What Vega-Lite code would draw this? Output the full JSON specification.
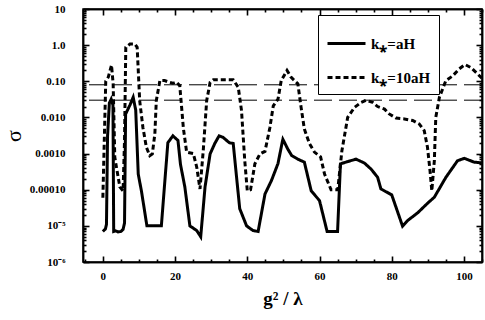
{
  "$schema": "https://vega.github.io/schema/vega-lite/v6.json",
  "width": 399,
  "height": 253,
  "autosize": {"type": "none"},
  "padding": {"left": 83, "top": 9, "right": 3, "bottom": 58},
  "background": "white",
  "config": {
    "view": {"stroke": "black", "strokeWidth": 1.5},
    "font": "Liberation Serif",
    "axis": {
      "grid": false,
      "zindex": 1,
      "domainColor": "black",
      "domainWidth": 1.5,
      "tickColor": "black",
      "tickOpacity": 1,
      "tickWidth": 1.6,
      "labelFont": "Liberation Serif",
      "labelFontWeight": "bold",
      "labelFontSize": 11,
      "labelColor": "black",
      "titleFont": "Liberation Serif",
      "titleColor": "black"
    },
    "legend": {
      "orient": "none",
      "legendX": 235,
      "legendY": 6,
      "direction": "vertical",
      "strokeColor": "black",
      "fillColor": "white",
      "padding": 8,
      "symbolType": "stroke",
      "symbolSize": 1444,
      "symbolStrokeWidth": 3,
      "symbolStrokeColor": "black",
      "labelFont": "Liberation Serif",
      "labelFontWeight": "bold",
      "labelFontSize": 15,
      "labelColor": "black",
      "labelOffset": 4,
      "rowPadding": 5
    }
  },
  "datasets": {
    "curves": [
      {"series": "k⁎=aH", "g": 0, "sigma": 7e-6},
      {"series": "k⁎=aH", "g": 0.7, "sigma": 8.2e-6},
      {"series": "k⁎=aH", "g": 1.0, "sigma": 1.1e-5},
      {"series": "k⁎=aH", "g": 1.3, "sigma": 0.003},
      {"series": "k⁎=aH", "g": 1.8, "sigma": 0.025},
      {"series": "k⁎=aH", "g": 2.3, "sigma": 0.032},
      {"series": "k⁎=aH", "g": 2.8, "sigma": 0.022},
      {"series": "k⁎=aH", "g": 3.0, "sigma": 7e-6},
      {"series": "k⁎=aH", "g": 3.5, "sigma": 7.3e-6},
      {"series": "k⁎=aH", "g": 4.2, "sigma": 6.8e-6},
      {"series": "k⁎=aH", "g": 5.0, "sigma": 7e-6},
      {"series": "k⁎=aH", "g": 5.6, "sigma": 8e-6},
      {"series": "k⁎=aH", "g": 6.0, "sigma": 1.2e-5},
      {"series": "k⁎=aH", "g": 6.3, "sigma": 0.0124},
      {"series": "k⁎=aH", "g": 7.5, "sigma": 0.022},
      {"series": "k⁎=aH", "g": 8.4, "sigma": 0.036},
      {"series": "k⁎=aH", "g": 9.1, "sigma": 0.016},
      {"series": "k⁎=aH", "g": 9.8, "sigma": 0.00027},
      {"series": "k⁎=aH", "g": 10.7, "sigma": 9e-5},
      {"series": "k⁎=aH", "g": 12.2, "sigma": 1e-5},
      {"series": "k⁎=aH", "g": 16.2, "sigma": 1e-5},
      {"series": "k⁎=aH", "g": 18.0, "sigma": 0.002},
      {"series": "k⁎=aH", "g": 19.4, "sigma": 0.0031},
      {"series": "k⁎=aH", "g": 20.8, "sigma": 0.0023},
      {"series": "k⁎=aH", "g": 21.5, "sigma": 0.0005},
      {"series": "k⁎=aH", "g": 22.7, "sigma": 0.00012},
      {"series": "k⁎=aH", "g": 24.1, "sigma": 1e-5},
      {"series": "k⁎=aH", "g": 26.0, "sigma": 7.4e-6},
      {"series": "k⁎=aH", "g": 27.1, "sigma": 5e-6},
      {"series": "k⁎=aH", "g": 28.3, "sigma": 0.00012},
      {"series": "k⁎=aH", "g": 29.7, "sigma": 0.00098},
      {"series": "k⁎=aH", "g": 31.0, "sigma": 0.0019},
      {"series": "k⁎=aH", "g": 32.2, "sigma": 0.0031},
      {"series": "k⁎=aH", "g": 33.3, "sigma": 0.0028},
      {"series": "k⁎=aH", "g": 35.0, "sigma": 0.002},
      {"series": "k⁎=aH", "g": 36.1, "sigma": 0.0019},
      {"series": "k⁎=aH", "g": 37.9, "sigma": 3e-5},
      {"series": "k⁎=aH", "g": 39.8, "sigma": 1e-5},
      {"series": "k⁎=aH", "g": 41.6, "sigma": 7.4e-6},
      {"series": "k⁎=aH", "g": 43.0, "sigma": 7e-6},
      {"series": "k⁎=aH", "g": 44.9, "sigma": 7.6e-5},
      {"series": "k⁎=aH", "g": 46.7, "sigma": 0.00018},
      {"series": "k⁎=aH", "g": 48.5, "sigma": 0.00053},
      {"series": "k⁎=aH", "g": 49.85, "sigma": 0.0025},
      {"series": "k⁎=aH", "g": 51.2, "sigma": 0.00134},
      {"series": "k⁎=aH", "g": 52.3, "sigma": 0.00088},
      {"series": "k⁎=aH", "g": 54.0, "sigma": 0.0007},
      {"series": "k⁎=aH", "g": 55.8, "sigma": 0.00058},
      {"series": "k⁎=aH", "g": 57.7, "sigma": 9.3e-5},
      {"series": "k⁎=aH", "g": 60.0, "sigma": 5e-5},
      {"series": "k⁎=aH", "g": 62.1, "sigma": 7e-6},
      {"series": "k⁎=aH", "g": 65.0, "sigma": 7e-6},
      {"series": "k⁎=aH", "g": 65.8, "sigma": 0.00052},
      {"series": "k⁎=aH", "g": 67.8, "sigma": 0.0006},
      {"series": "k⁎=aH", "g": 70.1, "sigma": 0.0007},
      {"series": "k⁎=aH", "g": 72.4, "sigma": 0.00055},
      {"series": "k⁎=aH", "g": 74.3, "sigma": 0.00037},
      {"series": "k⁎=aH", "g": 76.1, "sigma": 0.00022},
      {"series": "k⁎=aH", "g": 77.0, "sigma": 0.000105},
      {"series": "k⁎=aH", "g": 80.0, "sigma": 7.2e-5},
      {"series": "k⁎=aH", "g": 83.0, "sigma": 9.8e-6},
      {"series": "k⁎=aH", "g": 84.4, "sigma": 1.4e-5},
      {"series": "k⁎=aH", "g": 87.2, "sigma": 2.3e-5},
      {"series": "k⁎=aH", "g": 89.9, "sigma": 4.2e-5},
      {"series": "k⁎=aH", "g": 91.8, "sigma": 6.2e-5},
      {"series": "k⁎=aH", "g": 95.0, "sigma": 0.00022},
      {"series": "k⁎=aH", "g": 98.2, "sigma": 0.00063},
      {"series": "k⁎=aH", "g": 100.1, "sigma": 0.00074},
      {"series": "k⁎=aH", "g": 102.8, "sigma": 0.00058},
      {"series": "k⁎=aH", "g": 105.0, "sigma": 0.00055},
      {"series": "k⁎=10aH", "g": 0, "sigma": 6e-5},
      {"series": "k⁎=10aH", "g": 0.35, "sigma": 0.0015},
      {"series": "k⁎=10aH", "g": 0.8, "sigma": 0.1},
      {"series": "k⁎=10aH", "g": 1.5, "sigma": 0.13},
      {"series": "k⁎=10aH", "g": 2.4, "sigma": 0.28},
      {"series": "k⁎=10aH", "g": 2.85, "sigma": 0.085},
      {"series": "k⁎=10aH", "g": 3.3, "sigma": 0.0008},
      {"series": "k⁎=10aH", "g": 3.76, "sigma": 0.00042},
      {"series": "k⁎=10aH", "g": 4.7, "sigma": 0.00012},
      {"series": "k⁎=10aH", "g": 5.6, "sigma": 9.3e-5},
      {"series": "k⁎=10aH", "g": 6.0, "sigma": 0.0023},
      {"series": "k⁎=10aH", "g": 6.35, "sigma": 0.87},
      {"series": "k⁎=10aH", "g": 7.5, "sigma": 1.07},
      {"series": "k⁎=10aH", "g": 8.85, "sigma": 1.07},
      {"series": "k⁎=10aH", "g": 9.5, "sigma": 0.87},
      {"series": "k⁎=10aH", "g": 10.2, "sigma": 0.029},
      {"series": "k⁎=10aH", "g": 11.1, "sigma": 0.0052},
      {"series": "k⁎=10aH", "g": 12.05, "sigma": 0.0015},
      {"series": "k⁎=10aH", "g": 13.0, "sigma": 0.00087},
      {"series": "k⁎=10aH", "g": 13.7, "sigma": 0.00098},
      {"series": "k⁎=10aH", "g": 14.4, "sigma": 0.0035},
      {"series": "k⁎=10aH", "g": 14.8, "sigma": 0.029},
      {"series": "k⁎=10aH", "g": 15.8, "sigma": 0.105},
      {"series": "k⁎=10aH", "g": 17.1, "sigma": 0.105},
      {"series": "k⁎=10aH", "g": 18.5, "sigma": 0.093},
      {"series": "k⁎=10aH", "g": 19.4, "sigma": 0.088},
      {"series": "k⁎=10aH", "g": 20.35, "sigma": 0.095},
      {"series": "k⁎=10aH", "g": 21.3, "sigma": 0.076},
      {"series": "k⁎=10aH", "g": 22.3, "sigma": 0.005},
      {"series": "k⁎=10aH", "g": 23.2, "sigma": 0.0011},
      {"series": "k⁎=10aH", "g": 25.05, "sigma": 0.001},
      {"series": "k⁎=10aH", "g": 26.0, "sigma": 0.00042},
      {"series": "k⁎=10aH", "g": 26.9, "sigma": 0.000105},
      {"series": "k⁎=10aH", "g": 27.8, "sigma": 0.0012},
      {"series": "k⁎=10aH", "g": 28.75, "sigma": 0.029},
      {"series": "k⁎=10aH", "g": 29.7, "sigma": 0.093},
      {"series": "k⁎=10aH", "g": 30.6, "sigma": 0.11},
      {"series": "k⁎=10aH", "g": 36.1, "sigma": 0.11},
      {"series": "k⁎=10aH", "g": 37.5, "sigma": 0.068},
      {"series": "k⁎=10aH", "g": 38.4, "sigma": 0.0155},
      {"series": "k⁎=10aH", "g": 39.3, "sigma": 0.00063},
      {"series": "k⁎=10aH", "g": 40.0, "sigma": 9.3e-5},
      {"series": "k⁎=10aH", "g": 40.9, "sigma": 0.0001},
      {"series": "k⁎=10aH", "g": 42.1, "sigma": 0.00052},
      {"series": "k⁎=10aH", "g": 43.5, "sigma": 0.00098},
      {"series": "k⁎=10aH", "g": 44.9, "sigma": 0.00115},
      {"series": "k⁎=10aH", "g": 46.25, "sigma": 0.0052},
      {"series": "k⁎=10aH", "g": 47.2, "sigma": 0.021},
      {"series": "k⁎=10aH", "g": 48.5, "sigma": 0.032},
      {"series": "k⁎=10aH", "g": 49.4, "sigma": 0.105},
      {"series": "k⁎=10aH", "g": 51.0, "sigma": 0.2},
      {"series": "k⁎=10aH", "g": 52.1, "sigma": 0.13},
      {"series": "k⁎=10aH", "g": 54.0, "sigma": 0.085},
      {"series": "k⁎=10aH", "g": 54.9, "sigma": 0.019},
      {"series": "k⁎=10aH", "g": 55.8, "sigma": 0.0048},
      {"series": "k⁎=10aH", "g": 57.2, "sigma": 0.0019},
      {"series": "k⁎=10aH", "g": 58.6, "sigma": 0.0011},
      {"series": "k⁎=10aH", "g": 60.3, "sigma": 0.00081},
      {"series": "k⁎=10aH", "g": 61.4, "sigma": 0.00027},
      {"series": "k⁎=10aH", "g": 63.2, "sigma": 0.0001},
      {"series": "k⁎=10aH", "g": 65.05, "sigma": 0.0001},
      {"series": "k⁎=10aH", "g": 66.2, "sigma": 0.0012},
      {"series": "k⁎=10aH", "g": 67.8, "sigma": 0.01},
      {"series": "k⁎=10aH", "g": 69.7, "sigma": 0.019},
      {"series": "k⁎=10aH", "g": 71.5, "sigma": 0.026},
      {"series": "k⁎=10aH", "g": 72.9, "sigma": 0.03},
      {"series": "k⁎=10aH", "g": 74.7, "sigma": 0.026},
      {"series": "k⁎=10aH", "g": 76.1, "sigma": 0.02},
      {"series": "k⁎=10aH", "g": 78.0, "sigma": 0.017},
      {"series": "k⁎=10aH", "g": 79.3, "sigma": 0.0125},
      {"series": "k⁎=10aH", "g": 81.2, "sigma": 0.0096},
      {"series": "k⁎=10aH", "g": 83.5, "sigma": 0.0091},
      {"series": "k⁎=10aH", "g": 85.8, "sigma": 0.0082},
      {"series": "k⁎=10aH", "g": 87.6, "sigma": 0.0066},
      {"series": "k⁎=10aH", "g": 89.0, "sigma": 0.0043},
      {"series": "k⁎=10aH", "g": 89.9, "sigma": 0.0015},
      {"series": "k⁎=10aH", "g": 90.6, "sigma": 0.00034},
      {"series": "k⁎=10aH", "g": 91.1, "sigma": 9.3e-5},
      {"series": "k⁎=10aH", "g": 91.8, "sigma": 0.00063},
      {"series": "k⁎=10aH", "g": 92.2, "sigma": 0.01},
      {"series": "k⁎=10aH", "g": 93.2, "sigma": 0.036},
      {"series": "k⁎=10aH", "g": 95.0, "sigma": 0.105},
      {"series": "k⁎=10aH", "g": 96.85, "sigma": 0.14},
      {"series": "k⁎=10aH", "g": 98.7, "sigma": 0.22},
      {"series": "k⁎=10aH", "g": 100.3, "sigma": 0.29},
      {"series": "k⁎=10aH", "g": 101.9, "sigma": 0.24},
      {"series": "k⁎=10aH", "g": 103.8, "sigma": 0.16},
      {"series": "k⁎=10aH", "g": 105.0, "sigma": 0.12}
    ],
    "refs": [{"v": 0.08}, {"v": 0.03}]
  },
  "layer": [
    {
      "data": {"name": "refs"},
      "mark": {"type": "rule", "color": "black", "strokeWidth": 1, "strokeDash": [18, 7]},
      "encoding": {
        "y": {"field": "v", "type": "quantitative", "scale": {"type": "log", "domain": [1e-6, 10], "nice": false}, "axis": null}
      }
    },
    {
      "data": {"name": "curves"},
      "mark": {"type": "line", "color": "black", "strokeWidth": 3, "clip": true},
      "encoding": {
        "x": {"field": "g", "type": "quantitative", "scale": {"domain": [-5.5, 105], "nice": false, "zero": false},
          "axis": {"orient": "bottom", "values": [0, 20, 40, 60, 80, 100], "tickSize": -6, "labelPadding": 14, "title": "g² / λ", "titleFontSize": 19, "titleFontWeight": "bold", "titlePadding": 8}},
        "y": {"field": "sigma", "type": "quantitative", "scale": {"type": "log", "domain": [1e-6, 10], "nice": false},
          "axis": {"orient": "left", "values": [1e-6, 1e-5, 0.0001, 0.001, 0.01, 0.1, 1, 10], "tickSize": -6, "labelPadding": 24,
            "labelExpr": "datum.value >= 5 ? '10' : datum.value >= 0.5 ? '1.0' : datum.value >= 0.05 ? '0.10' : datum.value >= 0.005 ? '0.010' : datum.value >= 0.0005 ? '0.0010' : datum.value >= 0.00005 ? '0.00010' : datum.value >= 0.000005 ? '10⁻⁵' : '10⁻⁶'",
            "title": "σ", "titleFontSize": 22, "titleFontWeight": "normal", "titlePadding": 4}},
        "strokeDash": {"field": "series", "type": "nominal",
          "scale": {"domain": ["k⁎=aH", "k⁎=10aH"], "range": [[1, 0], [5, 3]]},
          "legend": {"title": null}}
      }
    },
    {
      "data": {"name": "curves"},
      "mark": {"type": "point", "opacity": 0},
      "encoding": {
        "x": {"field": "g", "type": "quantitative", "axis": {"orient": "bottom", "values": [-5, 5, 10, 15, 25, 30, 35, 45, 50, 55, 65, 70, 75, 85, 90, 95, 105], "tickSize": -3, "labels": false, "title": null}},
        "y": {"field": "sigma", "type": "quantitative", "axis": {"orient": "left", "values": [2e-6,3e-6,4e-6,5e-6,6e-6,7e-6,8e-6,9e-6,2e-5,3e-5,4e-5,5e-5,6e-5,7e-5,8e-5,9e-5,2e-4,3e-4,4e-4,5e-4,6e-4,7e-4,8e-4,9e-4,0.002,0.003,0.004,0.005,0.006,0.007,0.008,0.009,0.02,0.03,0.04,0.05,0.06,0.07,0.08,0.09,0.2,0.3,0.4,0.5,0.6,0.7,0.8,0.9,2,3,4,5,6,7,8,9], "tickSize": -3, "labels": false, "title": null}}
      }
    },
    {
      "data": {"name": "curves"},
      "mark": {"type": "point", "opacity": 0},
      "encoding": {
        "x": {"field": "g", "type": "quantitative", "axis": {"orient": "top", "values": [0, 20, 40, 60, 80, 100], "tickSize": -6, "labels": false, "title": null}},
        "y": {"field": "sigma", "type": "quantitative", "axis": {"orient": "right", "values": [1e-6, 1e-5, 0.0001, 0.001, 0.01, 0.1, 1, 10], "tickSize": -6, "labels": false, "title": null}}
      }
    },
    {
      "data": {"name": "curves"},
      "mark": {"type": "point", "opacity": 0},
      "encoding": {
        "x": {"field": "g", "type": "quantitative", "axis": {"orient": "top", "values": [-5, 5, 10, 15, 25, 30, 35, 45, 50, 55, 65, 70, 75, 85, 90, 95, 105], "tickSize": -3, "labels": false, "title": null}},
        "y": {"field": "sigma", "type": "quantitative", "axis": {"orient": "right", "values": [2e-6,3e-6,4e-6,5e-6,6e-6,7e-6,8e-6,9e-6,2e-5,3e-5,4e-5,5e-5,6e-5,7e-5,8e-5,9e-5,2e-4,3e-4,4e-4,5e-4,6e-4,7e-4,8e-4,9e-4,0.002,0.003,0.004,0.005,0.006,0.007,0.008,0.009,0.02,0.03,0.04,0.05,0.06,0.07,0.08,0.09,0.2,0.3,0.4,0.5,0.6,0.7,0.8,0.9,2,3,4,5,6,7,8,9], "tickSize": -3, "labels": false, "title": null}}
      }
    }
  ],
  "resolve": {"axis": {"x": "independent", "y": "independent"}}
}
